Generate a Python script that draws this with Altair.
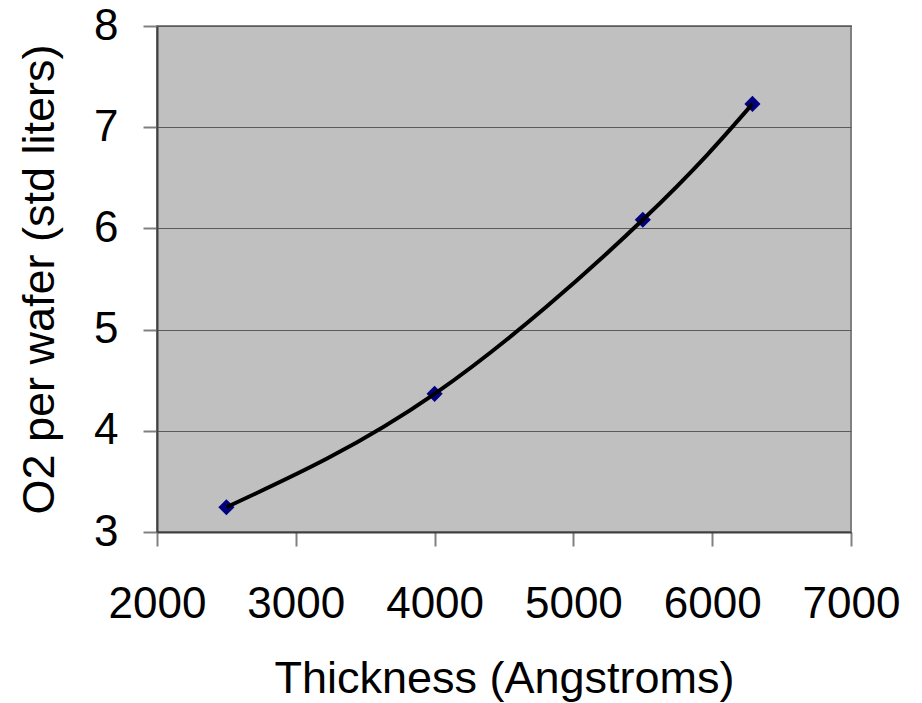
import altair as alt
import pandas as pd

# Data
thickness = [2500, 4000, 5500, 6290]
o2_per_wafer = [3.245, 4.365, 6.085, 7.23]

x_ticks = [2000, 3000, 4000, 5000, 6000, 7000]
y_ticks = [3, 4, 5, 6, 7, 8]

df = pd.DataFrame({"thickness": thickness, "o2": o2_per_wafer})

FONT = "Liberation Sans"

x_enc = alt.X(
    "thickness:Q",
    scale=alt.Scale(domain=[2000, 7000], nice=False, zero=False),
    axis=alt.Axis(
        title="Thickness (Angstroms)",
        values=x_ticks,
        format="d",
        grid=False,
        domainColor="#404040",
        domainWidth=2,
        tickColor="#808080",
        tickWidth=2,
        tickSize=14,
        labelFont=FONT,
        labelFontSize=44,
        labelColor="black",
        labelBaseline="alphabetic",
        labelPadding=71,
        labelFlush=False,
        labelOverlap=False,
        titleFont=FONT,
        titleFontSize=45,
        titleFontWeight="normal",
        titleColor="black",
        titleBaseline="alphabetic",
        titleX=347,
        titleY=160,
    ),
)

y_enc = alt.Y(
    "o2:Q",
    scale=alt.Scale(domain=[3, 8], nice=False, zero=False),
    axis=alt.Axis(
        title="O2 per wafer (std liters)",
        values=y_ticks,
        format="d",
        grid=True,
        gridColor="#5a5a5a",
        gridWidth=1,
        domainColor="#404040",
        domainWidth=2,
        tickColor="#808080",
        tickWidth=2,
        tickSize=14,
        labelFont=FONT,
        labelFontSize=44,
        labelColor="black",
        labelPadding=25,
        labelFlush=False,
        labelOverlap=False,
        titleFont=FONT,
        titleFontSize=45,
        titleFontWeight="normal",
        titleColor="black",
        titleAngle=270,
        titleAlign="center",
        titleBaseline="alphabetic",
        titleX=-104,
        titleY=253,
    ),
)

points = alt.Chart(df).mark_point(
    shape="diamond", filled=True, color="#000080", size=260, opacity=1
).encode(x=x_enc, y=y_enc)

line = alt.Chart(df).mark_line(
    color="black", strokeWidth=4, interpolate="natural"
).encode(x="thickness:Q", y="o2:Q")

chart = (
    alt.layer(points, line)
    .properties(
        width=694,
        height=506,
        autosize=alt.AutoSizeParams(type="none"),
        padding={"left": 157, "top": 26, "right": 71, "bottom": 171},
        background="white",
    )
    .configure_view(fill="#C0C0C0", stroke="#808080", strokeWidth=2)
)

chart.save("out.html", embed_options={"renderer": "svg", "actions": False})
